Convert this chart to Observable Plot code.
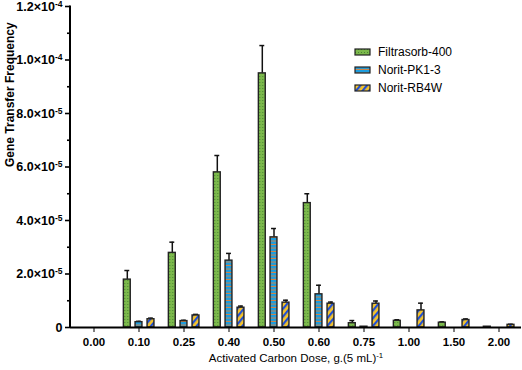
<!DOCTYPE html>
<html>
<head>
<meta charset="utf-8">
<script src="https://cdn.jsdelivr.net/npm/d3@7"></script>
<script src="https://cdn.jsdelivr.net/npm/@observablehq/plot@0.6"></script>
<style>
  html, body { margin: 0; padding: 0; background: #fff; }
  #chart { position: relative; width: 522px; height: 370px; }
  #chart svg { font-family: "Liberation Sans", Arial, sans-serif; font-size: 11px; color: #000; }
  #chart svg g[aria-label*="x-axis"] text { font-weight: bold; font-size: 11.5px; fill: #000; }
  #chart svg g[aria-label*="y-axis"] text { font-weight: bold; font-size: 12.5px; fill: #000; }
</style>
</head>
<body>
<div id="chart"></div>
<script>
// ---- data ----
const doses = ["0.00","0.10","0.25","0.40","0.50","0.60","0.75","1.00","1.50","2.00"];
const seriesNames = ["Filtrasorb-400","Norit-PK1-3","Norit-RB4W"];
const filtrasorb    = [0, 1.79e-5, 2.79e-5, 5.8e-5, 9.5e-5, 4.65e-5, 1.6e-6, 2.5e-6, 1.8e-6, 0.3e-6];
const filtrasorbErr = [0, 0.34e-5, 0.4e-5, 0.63e-5, 1.04e-5, 0.35e-5, 1.0e-6, 0.4e-6, 0.3e-6, 0];
const noritPK       = [0, 2.0e-6, 2.4e-6, 2.5e-5, 3.37e-5, 1.24e-5, 0.3e-6, 0, 0, 0];
const noritPKErr    = [0, 0.3e-6, 0.3e-6, 0.27e-5, 0.33e-5, 0.34e-5, 0, 0, 0, 0];
const noritRB       = [0, 3.1e-6, 4.5e-6, 7.4e-6, 9.3e-6, 8.9e-6, 8.9e-6, 6.4e-6, 2.8e-6, 1.0e-6];
const noritRBErr    = [0, 0.4e-6, 0.4e-6, 0.6e-6, 0.9e-6, 0.6e-6, 1.0e-6, 2.7e-6, 0.4e-6, 0.2e-6];
const yTicks = [0,1e-5,2e-5,3e-5,4e-5,5e-5,6e-5,7e-5,8e-5,9e-5,1e-4,1.1e-4,1.2e-4];
const xTitle = "Activated Carbon Dose, g.(5 mL)^-1";
const yTitle = "Gene Transfer Frequency";

// ---- table built from the arrays ----
const rows = doses.map((d, i) => ({
  dose: d,
  F: filtrasorb[i], Fe: filtrasorbErr[i],
  P: noritPK[i], Pe: noritPKErr[i],
  R: noritRB[i], Re: noritRBErr[i]
}));

const fills = ["url(#patGreen)", "url(#patBlue)", "url(#patYellow)"];
const keys = [["F","Fe"],["P","Pe"],["R","Re"]];
const offsets = [-11.7, 0, 12];
const bw = 451 / doses.length;
const inset = (bw - 7) / 2;
const capInset = (bw - 5) / 2;

function fmt(v) {
  if (v === 0) return "0";
  if (Math.round(v / 1e-5) % 2 === 1) return "";
  const e = Math.floor(Math.log10(v) + 1e-9);
  const m = v / Math.pow(10, e);
  return m.toFixed(1) + "×10^" + "-" + Math.abs(e);
}

const marks = [];
keys.forEach(([k, ke], s) => {
  const withErr = rows.filter(r => r[ke] > 0);
  marks.push(Plot.ruleX(withErr, {x: "dose", y1: k, y2: r => r[k] + r[ke], dx: offsets[s], stroke: "#111", strokeWidth: 1.5}));
  marks.push(Plot.tickY(withErr, {x: "dose", y: r => r[k] + r[ke], dx: offsets[s], insetLeft: capInset, insetRight: capInset, stroke: "#111", strokeWidth: 1.5}));
  marks.push(Plot.barY(rows.filter(r => r[k] > 0), {x: "dose", y: k, dx: offsets[s], insetLeft: inset, insetRight: inset, fill: fills[s], stroke: "#222", strokeWidth: 1.4}));
});
marks.push(Plot.ruleY([0], {stroke: "#000", strokeWidth: 2}));
marks.push(Plot.text([yTitle], {frameAnchor: "left", rotate: -90, dx: -60, fontWeight: "bold", fontSize: 12, fill: "#000"}));
marks.push(Plot.text([xTitle], {frameAnchor: "bottom", dy: 34, fontSize: 11.5, fill: "#000"}));

const plot = Plot.plot({
  width: 522, height: 370,
  marginLeft: 70, marginRight: 1, marginTop: 6, marginBottom: 43,
  style: {fontFamily: '"Liberation Sans", Arial, sans-serif', fontSize: "11px", color: "#000", background: "#fff"},
  x: {domain: doses, padding: 0, label: null, tickSize: 5, tickPadding: 5},
  y: {domain: [0, 1.2e-4], ticks: yTicks, tickFormat: fmt, label: null, tickSize: 5, tickPadding: 3},
  marks
});

const ns = "http://www.w3.org/2000/svg";
// patterns
const defs = document.createElementNS(ns, "defs");
defs.innerHTML = `
<pattern id="patGreen" patternUnits="userSpaceOnUse" width="3" height="3">
  <rect width="3" height="3" fill="#7cb94c"/>
  <rect x="1" y="1" width="1" height="1" fill="#4a8433"/>
</pattern>
<pattern id="patBlue" patternUnits="userSpaceOnUse" width="4" height="3.5">
  <rect width="4" height="3.5" fill="#1a9de0"/>
  <rect y="2.5" width="4" height="1" fill="#d7843f"/>
</pattern>
<pattern id="patYellow" patternUnits="userSpaceOnUse" width="5" height="5" patternTransform="rotate(40)">
  <rect width="5" height="5" fill="#f6c42a"/>
  <rect width="2.2" height="5" fill="#1f4fd6"/>
</pattern>`;
plot.insertBefore(defs, plot.firstChild);

// superscripts
function supify(el) {
  const s = el.textContent;
  const [base, sup] = s.split("^");
  el.textContent = base;
  const b = document.createElementNS(ns, "tspan"); b.textContent = sup;
  b.setAttribute("dy", "-0.45em"); b.setAttribute("font-size", "0.68em");
  if (el.tagName.toLowerCase() === "tspan") el.after(b); else el.appendChild(b);
}
plot.querySelectorAll("text").forEach(t => {
  if (!t.textContent.includes("^")) return;
  const tsp = t.querySelectorAll("tspan");
  if (tsp.length) tsp.forEach(ts => { if (ts.textContent.includes("^")) supify(ts); });
  else supify(t);
});

// y-axis: tick lengths (minor shorter) and axis line from the scales
const yTickG = [...plot.querySelectorAll('g[aria-label*="y-axis"]')].find(g => g.querySelector("path"));
if (yTickG) {
  const paths = yTickG.querySelectorAll("path");
  if (paths.length === yTicks.length) {
    paths.forEach((p, i) => { p.setAttribute("stroke-width", "1.6"); if (i % 2 === 1) p.setAttribute("d", "M0,0L-3,0"); });
  }
}
const ys = plot.scale("y"), xs = plot.scale("x");
const yLine = document.createElementNS(ns, "line");
yLine.setAttribute("x1", xs.range[0]); yLine.setAttribute("x2", xs.range[0]);
yLine.setAttribute("y1", ys.range[1] - 0.5); yLine.setAttribute("y2", ys.range[0] + 1);
yLine.setAttribute("stroke", "#000"); yLine.setAttribute("stroke-width", 2);
plot.appendChild(yLine);

// legend
const lg = document.createElementNS(ns, "g");
lg.setAttribute("text-anchor", "start");
seriesNames.forEach((name, i) => {
  const y = 52 + i * 18;
  const r = document.createElementNS(ns, "rect");
  r.setAttribute("x", 355); r.setAttribute("y", y - 3); r.setAttribute("width", 15); r.setAttribute("height", 6);
  r.setAttribute("fill", fills[i]); r.setAttribute("stroke", "#222"); r.setAttribute("stroke-width", 1.2);
  const t = document.createElementNS(ns, "text");
  t.setAttribute("x", 378); t.setAttribute("y", y); t.setAttribute("dy", "0.35em");
  t.setAttribute("text-anchor", "start");
  t.setAttribute("font-size", 12); t.setAttribute("fill", "#000");
  t.textContent = name;
  lg.appendChild(r); lg.appendChild(t);
});
plot.appendChild(lg);

document.getElementById("chart").appendChild(plot);
</script>
</body>
</html>
